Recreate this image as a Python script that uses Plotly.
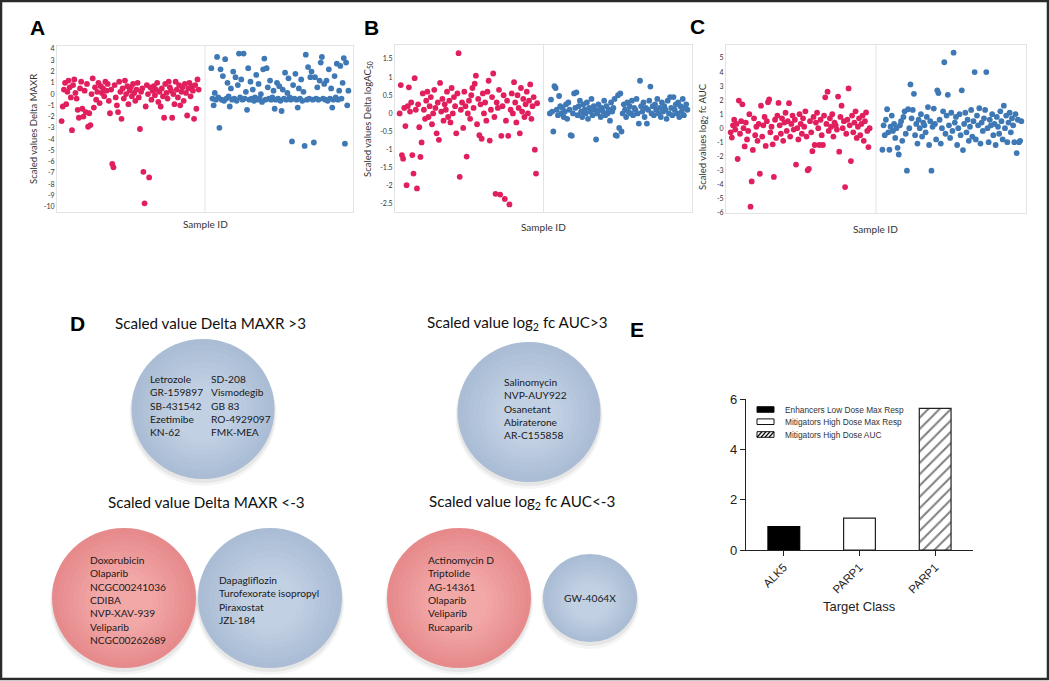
import plotly.graph_objects as go

W, H = 1050, 681

# ---------------- data: scatter panels (scaled values per sample) ----------------
red_a = [-2.4, -1.1, 0.4, 1.0, -0.9, 0.2, 1.2, 0.6, -0.3, -3.2,
         0.8, 1.3, 0.1, -0.4, -1.4, -2.1, 0.5, 1.1, -1.3, -2.0,
         0.3, -1.6, 0.9, -2.9, -1.7, -2.75, 0.0, 1.4, -1.2, 0.6,
         -0.5, 0.2, 1.0, -0.8, 0.7, 0.1, 0.5, -0.2, 1.1, 0.3,
         0.9, -0.6, -1.7, 0.4, -6.2, -6.5, 0.8, -0.3, -1.0, -1.6,
         1.1, 0.2, -2.2, 0.5, -0.4, 1.2, 0.0, 0.7, -0.9, 0.3,
         0.6, -0.2, 0.9, 0.1, -0.6, 0.4, 1.0, -0.3, -3.1, 0.2,
         0.5, -6.9, -9.7, -1.1, 0.8, 0.0, -7.4, 0.6, -0.5, 0.3,
         0.7, -0.1, 0.4, 1.0, -0.7, 0.2, -1.1, 0.5, -0.2, -2.1,
         0.9, 0.1, -0.4, 1.1, 0.6, 0.3, -2.1, 0.0, -0.9, 1.1,
         0.4, -0.3, 0.8, -1.0, 0.2, 0.6, -0.6, 0.9, 0.1, -1.9,
         0.5, 1.0, -0.2, 0.7, 0.3, -2.2, 0.8, -1.3, 1.3, 0.4]
blue_a = [2.3, -0.4, -1.0, 0.1, -0.5, 3.3, -0.3, -3.0, 2.2, -0.5,
          1.6, -0.6, 3.1, -0.4, 1.0, -0.2, -1.1, 0.5, -0.5, 2.0,
          -0.4, 1.5, -0.6, 0.8, 3.6, -0.3, 1.3, -0.5, 3.6, -0.4,
          0.2, -1.4, 2.3, -0.5, 1.1, -0.4, 0.4, -0.6, -0.3, 1.7,
          -0.5, 0.9, -0.4, 0.0, -0.7, 2.2, 3.15, -0.5, 2.3, 0.6,
          -0.4, 1.2, -0.5, -0.3, 0.3, -1.3, -0.5, 1.0, -0.4, 0.7,
          -0.6, -1.5, 0.4, -0.4, 1.9, -0.5, 0.1, 1.4, -0.3, -0.5,
          -4.2, 0.8, -0.4, 1.8, -0.5, -1.2, 0.5, -0.4, 1.3, -0.6,
          0.2, -4.6, 3.5, -0.5, 2.4, -0.4, 1.5, 2.0, -0.5, -4.3,
          1.5, -0.4, 0.6, -0.5, 1.2, 2.8, 3.3, -0.4, 0.9, -0.5,
          1.2, -0.6, 2.2, -0.4, 0.5, -1.2, -0.5, 1.6, -0.3, 2.7,
          -0.5, 0.3, 2.5, -0.4, 1.0, 3.2, -4.4, 2.8, -1.0, 0.3]
red_b = [0.0, 0.78, -1.15, -1.25, 0.15, -0.35, -1.98, 0.2, 0.72, 0.05,
         0.3, -1.15, -1.66, 0.97, 0.1, -2.07, 0.25, -0.38, -1.2, -0.8,
         0.55, 0.1, -0.15, 0.35, 0.6, -0.1, 0.2, 0.45, -0.3, 0.0,
         0.65, 0.15, -0.55, 0.3, -0.73, 0.84, 0.05, 0.4, -0.2, 0.25,
         0.1, 0.6, -0.1, 0.35, -0.25, 0.7, 0.0, 0.45, 0.2, -0.55,
         0.55, 1.66, -1.75, 0.1, 0.3, -0.4, 0.6, 0.2, -1.19, 0.0,
         0.35, -0.15, 0.5, 0.7, 0.15, 0.82, 1.04, -0.3, 0.4, -0.6,
         0.25, -0.7, 0.55, 0.0, 0.3, -0.2, 0.6, 0.9, -0.75, 0.1,
         0.45, 1.1, -0.1, -2.22, 0.3, 0.15, 0.65, -2.24, -0.62, 0.2,
         0.5, -2.36, -0.2, 0.35, -0.62, -2.51, 0.1, 0.55, 0.0, 0.86,
         0.3, -0.25, 0.5, 0.15, -0.55, 0.7, 0.05, 0.4, -0.1, 0.25,
         0.6, 0.0, 0.35, 0.8, -0.15, 0.2, 0.45, -1.0, -1.66, 0.28]
blue_b = [0.0, 0.38, 0.05, -0.5, 0.75, 0.7, 0.1, -0.05, 0.48, 0.2,
          0.0, 0.15, -0.1, 0.05, 0.25, -0.15, 0.3, 0.1, -0.6, -0.62,
          0.0, 0.55, 0.15, 0.58, -0.05, 0.2, 0.35, 0.05, -0.1, 0.25,
          0.1, 0.0, 0.3, -0.15, 0.15, 0.05, 0.4, -0.05, 0.2, 0.1,
          -0.72, 0.0, 0.25, 0.1, -0.1, 0.15, 0.05, 0.35, -0.05, 0.2,
          0.0, 0.1, -0.2, 0.3, 0.05, 0.15, 0.4, -0.6, -0.62, 0.5,
          -0.4, 0.55, -0.5, 0.0, 0.25, 0.1, -0.1, 0.3, 0.05, 0.2,
          0.0, 0.35, -0.05, 0.15, 0.1, 0.4, 0.0, -0.28, 0.9, 0.2,
          0.05, 0.3, -0.1, 0.15, -0.28, 0.1, 0.35, 0.74, 0.0, 0.2,
          -0.05, 0.25, 0.1, 0.4, 0.0, 0.15, -0.1, 0.3, 0.05, 0.2,
          0.1, -0.15, 0.35, 0.0, 0.45, 0.15, -0.05, 0.45, 0.1, 0.25,
          0.0, 0.3, -0.1, 0.2, 0.05, 0.4, -0.05, 0.15, 0.25, 0.1]
red_c = [-0.3, -0.67, 0.2, 0.6, -0.1, 0.3, -2.2, 1.97, -0.4, 0.5,
         1.7, 0.0, -1.3, 0.4, -0.8, -0.2, 1.0, -5.6, -3.8, -1.55,
         0.7, -0.5, 0.1, -0.9, 0.3, -3.25, 1.6, -0.6, 0.2, 0.8,
         -1.27, 0.5, 1.85, 2.05, -0.3, 0.1, -1.15, -3.48, 0.6, -0.7,
         0.9, 1.8, 0.2, -0.4, 0.7, -0.9, 0.4, 1.1, -0.2, 0.5,
         1.78, -0.6, 0.3, 0.9, -0.1, 0.6, -2.6, 0.0, -0.8, 1.0,
         0.3, -0.4, 0.7, 0.1, 1.2, -0.6, -3.0, -2.9, 0.5, -0.3,
         -1.64, 0.8, -1.2, 0.4, 1.1, 0.0, -1.2, 0.6, -0.5, -1.2,
         0.9, 2.2, 0.3, 2.6, -0.2, 0.7, 0.1, 1.0, -0.6, 0.4,
         0.2, -0.1, 2.25, -1.68, 0.8, 1.6, 0.0, 0.5, -4.2, -0.4,
         0.6, 2.83, 0.2, -2.35, 0.9, -0.3, 0.4, 1.2, -0.7, 0.1,
         0.7, -0.5, 0.3, 0.9, -0.9, 0.5, 1.12, -0.2, -1.35, 0.0]
blue_c = [-1.54, 0.2, -0.5, 0.6, 1.35, -0.3, -1.54, 0.1, 0.9, -0.2,
          0.3, -0.7, 0.0, -1.4, -1.88, 0.2, 0.5, -0.9, 0.8, 1.2,
          -0.4, -3.03, 1.35, 0.0, 3.12, 0.7, 1.3, 2.45, -0.5, 0.3,
          -1.1, 0.6, 0.0, 1.0, -0.6, 0.4, 0.2, -0.3, 0.8, 1.5,
          -1.2, 0.5, -3.03, 0.1, 1.4, 0.3, -0.8, 2.7, 2.5, 0.6,
          -1.1, 0.0, 1.2, 4.7, -0.4, 0.9, 2.38, 0.2, -0.7, 1.1,
          -0.2, 5.38, 0.4, 0.8, -1.2, 0.0, 1.0, -0.5, 2.7, -1.56,
          0.3, 1.1, -0.3, 0.6, -0.9, 0.1, 1.3, -0.6, 0.5, 4.0,
          -0.8, 0.9, 0.2, 1.42, -1.1, 0.4, -0.2, 0.7, 1.3, 4.0,
          0.0, -1.0, 0.6, 0.2, 1.0, -0.5, 0.3, -1.2, 0.8, 0.1,
          -0.4, 1.2, 0.5, -0.8, 1.6, 0.0, 0.9, -1.0, 0.4, 1.1,
          -0.3, 0.7, 0.2, -1.0, 1.0, -1.78, 0.6, -1.0, -0.9, 0.5]

a_tickvals = [-10, -9, -8, -7, -6, -5, -4, -3, -2, -1, 0, 1, 2, 3, 4]
a_ticktext = ["-10", "-9", "-8", "-7", "-6", "-5", "-4", "-3", "-2", "-1", "0", "1", "2", "3", "4"]
b_tickvals = [-2.5, -2, -1.5, -1, -0.5, 0, 0.5, 1, 1.5]
b_ticktext = ["-2.5", "-2", "-1.5", "-1", "-0.5", "0", "0.5", "1", "1.5"]
c_tickvals = [-6, -5, -4, -3, -2, -1, 0, 1, 2, 3, 4, 5]
c_ticktext = ["-6", "-5", "-4", "-3", "-2", "-1", "0", "1", "2", "3", "4", "5"]

y_titles = ["Scaled values Delta MAXR",
            "Scaled values Delta logAC<sub>50</sub>",
            "Scaled values log<sub>2</sub> fc AUC"]
x_title = "Sample ID"

# ---------------- data: panel D (compound lists) ----------------
d_titles = ["Scaled value Delta MAXR >3",
            "Scaled value log<sub>2</sub> fc AUC>3",
            "Scaled value Delta MAXR &lt;-3",
            "Scaled value log<sub>2</sub> fc AUC&lt;-3"]
maxr_up_left = ["Letrozole", "GR-159897", "SB-431542", "Ezetimibe", "KN-62"]
maxr_up_right = ["SD-208", "Vismodegib", "GB 83", "RO-4929097", "FMK-MEA"]
auc_up = ["Salinomycin", "NVP-AUY922", "Osanetant", "Abiraterone", "AR-C155858"]
maxr_down_red = ["Doxorubicin", "Olaparib", "NCGC00241036", "CDIBA", "NVP-XAV-939", "Veliparib", "NCGC00262689"]
maxr_down_blue = ["Dapagliflozin", "Turofexorate isopropyl", "Piraxostat", "JZL-184"]
auc_down_red = ["Actinomycin D", "Triptolide", "AG-14361", "Olaparib", "Veliparib", "Rucaparib"]
auc_down_blue = ["GW-4064X"]

# ---------------- data: panel E ----------------
e_categories = ["ALK5", "PARP1", "PARP1"]
e_values = [0.93, 1.27, 5.63]
e_series = ["Enhancers Low Dose Max Resp", "Mitigators High Dose Max Resp", "Mitigators High Dose AUC"]
e_ticks = [0, 2, 4, 6]
e_xtitle = "Target Class"

# ---------------- styling ----------------
RED = "#E01F5C"
BLUE = "#3E78B5"
BOXLINE = "#E3E3E3"
FONT = "Lato"
ARIAL = "Liberation Sans"


def px(x):
    return x / W


def py(y):
    return 1 - y / H


fig = go.Figure()
layout = {}
shapes = []
annotations = []

# scatter panel boxes in pixels: (left, right, top, bottom, yrange)
boxes = [(57, 353, 46, 212, [-10.47, 4.27], a_tickvals, a_ticktext),
         (395, 692, 45, 212, [-2.72, 1.886], b_tickvals, b_ticktext),
         (726, 1026, 45, 213, [-6.05, 5.93], c_tickvals, c_ticktext)]
series = [(red_a, blue_a), (red_b, blue_b), (red_c, blue_c)]
ytitle_pos = [(33, 129), (368, 119), (703, 137)]
xtitle_pos = [(205, 224), (543, 227), (875, 229)]

for i, ((x0, x1, y0, y1, yr, tv, tt), (red, blue)) in enumerate(zip(boxes, series), start=1):
    sfx = "" if i == 1 else str(i)
    fig.add_trace(go.Scatter(x=list(range(1, len(red) + 1)), y=red, mode="markers",
                             marker=dict(color=RED, size=5.8, line=dict(width=0)),
                             xaxis="x" + sfx, yaxis="y" + sfx, showlegend=False))
    fig.add_trace(go.Scatter(x=list(range(131, 131 + len(blue))), y=blue, mode="markers",
                             marker=dict(color=BLUE, size=5.8, line=dict(width=0)),
                             xaxis="x" + sfx, yaxis="y" + sfx, showlegend=False))
    layout["xaxis" + sfx] = dict(domain=[px(x0), px(x1)], range=[-3, 254], anchor="y" + sfx,
                                 showticklabels=False, showgrid=False, zeroline=False, automargin=False,
                                 showline=True, mirror=True, linecolor=BOXLINE, linewidth=1)
    layout["yaxis" + sfx] = dict(domain=[py(y1), py(y0)], range=yr, anchor="x" + sfx, automargin=False,
                                 tickvals=tv, ticktext=tt, showgrid=False, zeroline=False,
                                 showline=True, mirror=True, linecolor=BOXLINE, linewidth=1,
                                 tickfont=dict(family=FONT, size=7, color="#333"))
    shapes.append(dict(type="line", xref="x" + sfx, yref="y" + sfx + " domain",
                       x0=125.5, x1=125.5, y0=0, y1=1, line=dict(color=BOXLINE, width=1)))
    tx, ty = ytitle_pos[i - 1]
    annotations.append(dict(text=y_titles[i - 1], x=px(tx), y=py(ty), xref="paper", yref="paper",
                            textangle=-90, showarrow=False, xanchor="center", yanchor="middle",
                            font=dict(family=FONT, size=9.5, color="#333")))
    sx, sy = xtitle_pos[i - 1]
    annotations.append(dict(text=x_title, x=px(sx), y=py(sy), xref="paper", yref="paper",
                            showarrow=False, xanchor="center", yanchor="middle",
                            font=dict(family=FONT, size=10, color="#333")))

# ---------------- panel E bars ----------------
fig.add_trace(go.Bar(x=[0], y=[e_values[0]], width=0.42, name=e_series[0],
                     marker=dict(color="black", line=dict(color="black", width=1.2)),
                     xaxis="x4", yaxis="y4", showlegend=False))
fig.add_trace(go.Bar(x=[1], y=[e_values[1]], width=0.42, name=e_series[1],
                     marker=dict(color="white", line=dict(color="#222", width=1.2)),
                     xaxis="x4", yaxis="y4", showlegend=False))
fig.add_trace(go.Bar(x=[2], y=[e_values[2]], width=0.42, name=e_series[2],
                     marker=dict(color="white", line=dict(color="#222", width=1.2),
                                 pattern=dict(shape="/", fgcolor="#000", bgcolor="white",
                                              size=8, solidity=0.25)),
                     xaxis="x4", yaxis="y4", showlegend=False))
layout["xaxis4"] = dict(domain=[px(746), px(973)], range=[-0.5, 2.5], anchor="y4", automargin=False,
                        tickvals=[0, 1, 2], ticktext=e_categories, tickangle=-45,
                        ticks="outside", ticklen=5, tickcolor="#222", showline=True,
                        linecolor="#222", linewidth=1.3, showgrid=False, zeroline=False,
                        tickfont=dict(family=ARIAL, size=11.5, color="#222"))
layout["yaxis4"] = dict(domain=[py(550), py(399)], range=[0, 6], anchor="x4", automargin=False,
                        tickvals=e_ticks, ticks="outside", ticklen=5, tickcolor="#222",
                        showline=True, linecolor="#222", linewidth=1.3, showgrid=False,
                        zeroline=False, tickfont=dict(family=ARIAL, size=13, color="#222"))
annotations.append(dict(text=e_xtitle, x=px(859), y=py(606), xref="paper", yref="paper",
                        showarrow=False, xanchor="center", yanchor="middle",
                        font=dict(family=ARIAL, size=13, color="#222")))

# manual legend for panel E
leg_rows = [409.5, 421.7, 434.5]
for k, name in enumerate(e_series):
    yc = leg_rows[k]
    fill = "black" if k == 0 else "white"
    shapes.append(dict(type="rect", xref="paper", yref="paper", x0=px(757), x1=px(774),
                       y0=py(yc + 2.8), y1=py(yc - 2.8), fillcolor=fill,
                       line=dict(color="#111", width=1)))
    if k == 2:
        path = ""
        for xs in [757, 761, 765, 769]:
            path += f"M {px(xs)} {py(yc + 2.8)} L {px(xs + 5)} {py(yc - 2.8)} "
        shapes.append(dict(type="path", xref="paper", yref="paper", path=path,
                           line=dict(color="#111", width=1.3)))
    annotations.append(dict(text=name, x=px(783), y=py(yc), xref="paper", yref="paper",
                            showarrow=False, xanchor="left", yanchor="middle",
                            font=dict(family=ARIAL, size=8.3, color="#333")))


# ---------------- panel D bubbles ----------------
def mix(c1, c2, t):
    return "rgb({},{},{})".format(*[round(a + (b - a) * t) for a, b in zip(c1, c2)])


def bubble(cx, cy, rx, ry, edge, center):
    for dy, grow, a in [(5, 2, 0.04), (3, 1, 0.06)]:
        shapes.append(dict(type="circle", xref="paper", yref="paper",
                           x0=px(cx - rx - grow), x1=px(cx + rx + grow),
                           y0=py(cy + ry + dy + grow), y1=py(cy - ry + dy - grow),
                           fillcolor=f"rgba(0,0,0,{a})", line=dict(width=0)))
    n = 9
    for k in range(n):
        t = k / (n - 1)
        f = 1 - 0.6 * t
        ccy = cy + 4 * t
        shapes.append(dict(type="circle", xref="paper", yref="paper",
                           x0=px(cx - rx * f), x1=px(cx + rx * f),
                           y0=py(ccy + ry * f), y1=py(ccy - ry * f),
                           fillcolor=mix(edge, center, t), line=dict(width=0)))


BL_EDGE, BL_CENTER = (170, 189, 213), (194, 208, 227)
RD_EDGE, RD_CENTER = (230, 138, 140), (243, 168, 168)
bubble(203, 409, 71.5, 70, BL_EDGE, BL_CENTER)
bubble(529, 412, 71.5, 70, BL_EDGE, BL_CENTER)
bubble(124, 598, 72, 70, RD_EDGE, RD_CENTER)
bubble(270, 598, 72, 70, BL_EDGE, BL_CENTER)
bubble(459, 598, 72, 70, RD_EDGE, RD_CENTER)
bubble(590, 598, 47, 44, BL_EDGE, BL_CENTER)

title_pos = [(210, 323), (517, 323), (206, 502), (522, 502)]
for t, (tx, ty) in zip(d_titles, title_pos):
    annotations.append(dict(text=t, x=px(tx), y=py(ty), xref="paper", yref="paper",
                            showarrow=False, xanchor="center", yanchor="middle",
                            font=dict(family=FONT, size=15.2, color="#111")))

blocks = [(maxr_up_left, 148, 379), (maxr_up_right, 209, 379), (auc_up, 502, 382),
          (maxr_down_red, 88, 560), (maxr_down_blue, 217, 580), (auc_down_red, 426, 560)]
for names, bx, by in blocks:
    for j, nm in enumerate(names):
        annotations.append(dict(text=nm, x=px(bx), y=py(by + j * 13.35), xref="paper", yref="paper",
                                showarrow=False, xanchor="left", yanchor="middle",
                                font=dict(family=FONT, size=10.2, color="#1a1a1a")))
annotations.append(dict(text=auc_down_blue[0], x=px(590), y=py(598), xref="paper", yref="paper",
                        showarrow=False, xanchor="center", yanchor="middle",
                        font=dict(family=FONT, size=10.2, color="#1a1a1a")))

# panel letters
for lab, (lx, ly) in zip("ABCDE", [(37.5, 28), (371.5, 28), (697, 27), (77, 324), (637, 329)]):
    annotations.append(dict(text=f"<b>{lab}</b>", x=px(lx), y=py(ly), xref="paper", yref="paper",
                            showarrow=False, xanchor="center", yanchor="middle",
                            font=dict(family=ARIAL, size=21, color="black")))

# outer frame
shapes.append(dict(type="rect", xref="paper", yref="paper", x0=px(1), x1=px(1048),
                   y0=py(679), y1=py(1), line=dict(color="#2b2b2b", width=2.5)))

fig.update_layout(width=W, height=H, margin=dict(l=0, r=0, t=0, b=0, pad=0), autosize=False,
                  paper_bgcolor="white", plot_bgcolor="white", showlegend=False,
                  barmode="overlay", shapes=shapes, annotations=annotations, **layout)

fig.write_html("out.html", config={"displayModeBar": False},
               post_script="document.body.style.margin='0px';")
